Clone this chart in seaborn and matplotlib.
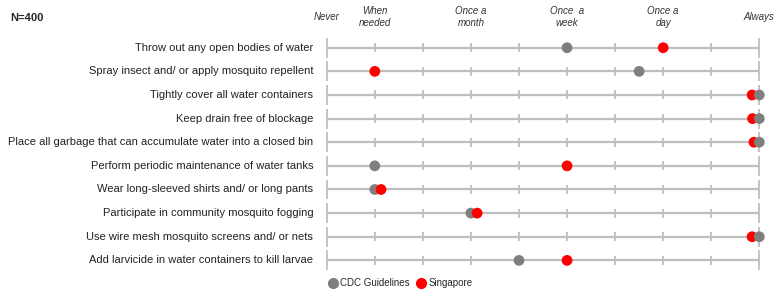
import pandas as pd
import numpy as np
import seaborn as sns
import matplotlib.pyplot as plt
from matplotlib.lines import Line2D

sns.set_style("white")
plt.rcParams['font.family'] = ['Liberation Sans', 'DejaVu Sans']

# data
behaviours = [
    "Throw out any open bodies of water",
    "Spray insect and/ or apply mosquito repellent",
    "Tightly cover all water containers",
    "Keep drain free of blockage",
    "Place all garbage that can accumulate water into a closed bin",
    "Perform periodic maintenance of water tanks",
    "Wear long-sleeved shirts and/ or long pants",
    "Participate in community mosquito fogging",
    "Use wire mesh mosquito screens and/ or nets",
    "Add larvicide in water containers to kill larvae",
]
cdc = [5, 6.5, 9, 9, 9, 1, 1, 3, 9, 4]
singapore = [7, 1, 8.85, 8.86, 8.89, 5, 1.13, 3.13, 8.85, 5]
level_pos = [0, 1, 3, 5, 7, 9]
level_labels = ["Never", "When\nneeded", "Once a\nmonth", "Once  a\nweek", "Once a\nday", "Always"]
n_ticks = 10

df = pd.DataFrame({"behaviour": behaviours, "CDC Guidelines": cdc, "Singapore": singapore})
df["row"] = range(len(df))
long = df.melt(id_vars=["behaviour", "row"], var_name="source", value_name="freq")
long = long.sort_values("freq")  # rightmost dot drawn on top

fig = plt.figure(figsize=(7.82, 2.97), dpi=100)
ax = fig.add_axes([0.3994, 0.0835, 0.590, 0.7956])

line_c = "#bfbfbf"
rows = df["row"].to_numpy()
ax.hlines(rows, 0, n_ticks - 1, color=line_c, lw=1.6, zorder=1)
for t in range(n_ticks):
    h = 0.42 if t in (0, n_ticks - 1) else 0.19
    ax.vlines([t] * len(rows), rows - h, rows + h, color=line_c, lw=1.3, zorder=1)

sns.scatterplot(data=long, x="freq", y="row", hue="source",
                palette={"CDC Guidelines": "#7f7f7f", "Singapore": "#ff0000"},
                s=60, linewidth=0, ax=ax, zorder=3, legend=False)

for r, lab in zip(rows, behaviours):
    ax.text(-0.28, r, lab, ha="right", va="center", fontsize=8, color="#222222")
for p, lab in zip(level_pos, level_labels):
    ax.text(p, -1.3, lab, ha="center", va="center", fontsize=7, style="italic",
            color="#333333", linespacing=1.15)

fig.text(0.013, 0.94, "N=400", fontsize=8, fontweight="bold", va="center")

handles = [Line2D([], [], marker="o", ls="", color="#7f7f7f", markersize=7),
           Line2D([], [], marker="o", ls="", color="#ff0000", markersize=7)]
fig.legend(handles, ["CDC Guidelines", "Singapore"], loc="center left",
           bbox_to_anchor=(0.419, 0.047), ncol=2, frameon=False, fontsize=7,
           handletextpad=0.3, columnspacing=0.6, borderaxespad=0, borderpad=0,
           handlelength=1.0)

ax.set_xlim(-0.3, 9.3)
ax.set_ylim(9.5, -0.5)
ax.axis("off")

fig.savefig("out.png", dpi=100)
